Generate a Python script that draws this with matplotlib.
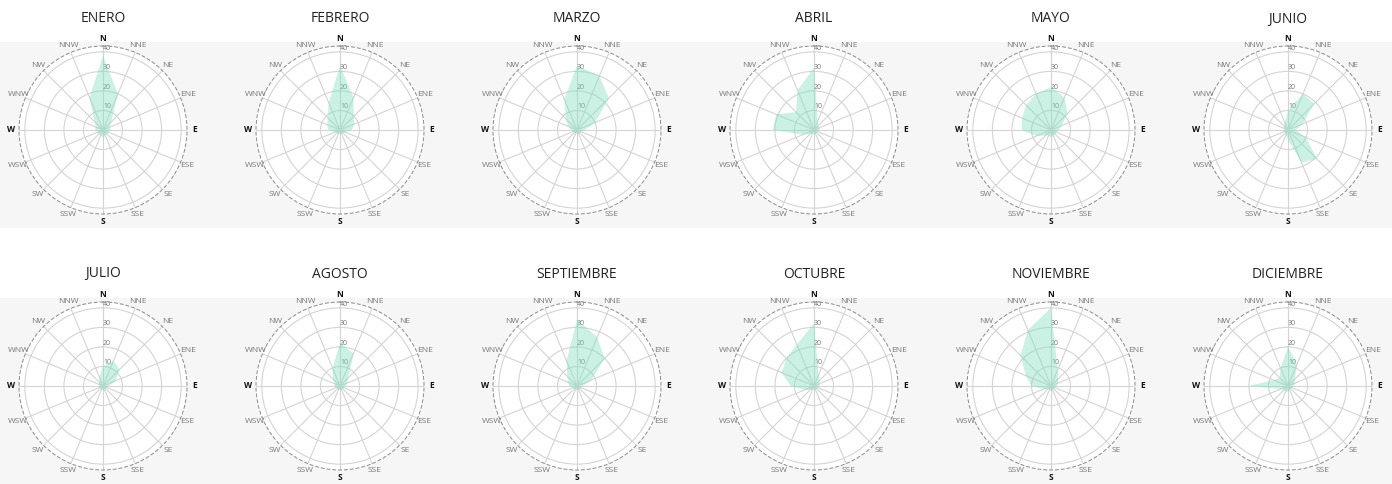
import numpy as np
import matplotlib
matplotlib.use('Agg')
import matplotlib.pyplot as plt
from matplotlib.patches import Rectangle

plt.rcParams['font.family'] = ['Open Sans', 'DejaVu Sans']

# wind directions, clockwise from north
directions = ['N', 'NNE', 'NE', 'ENE', 'E', 'ESE', 'SE', 'SSE',
              'S', 'SSW', 'SW', 'WSW', 'W', 'WNW', 'NW', 'NNW']
months = ['ENERO', 'FEBRERO', 'MARZO', 'ABRIL', 'MAYO', 'JUNIO',
          'JULIO', 'AGOSTO', 'SEPTIEMBRE', 'OCTUBRE', 'NOVIEMBRE', 'DICIEMBRE']
radial_ticks = [10, 20, 30, 40]

# frequency per direction
enero = [38, 20, 6, 4, 4, 3, 3, 3, 4, 3, 3, 3, 4, 4, 6, 18]
febrero = [33, 18, 10, 8, 6, 3, 2, 2, 2, 2, 2, 3, 6, 7, 9, 15]
marzo = [33, 30, 23, 10, 4, 2, 2, 2, 2, 2, 2, 2, 3, 5, 8, 17]
abril = [32, 5, 3, 3, 3, 2, 2, 2, 2, 2, 3, 6, 21, 21, 13, 22]
mayo = [22, 18, 12, 6, 4, 3, 3, 3, 4, 3, 4, 8, 15, 16, 18, 20]
junio = [10, 20, 19, 8, 4, 10, 21, 18, 5, 3, 2, 2, 2, 2, 3, 4]
julio = [10, 14, 12, 7, 3, 2, 2, 2, 2, 2, 2, 2, 2, 2, 3, 5]
agosto = [22, 18, 6, 4, 3, 2, 2, 2, 2, 2, 2, 2, 3, 3, 5, 10]
septiembre = [34, 27, 20, 8, 3, 2, 2, 2, 2, 2, 2, 2, 4, 5, 7, 14]
octubre = [32, 6, 4, 3, 3, 2, 2, 2, 2, 2, 3, 5, 12, 18, 20, 23]
noviembre = [40, 9, 5, 4, 3, 2, 2, 2, 3, 2, 2, 4, 10, 14, 22, 31]
diciembre = [20, 12, 5, 4, 3, 2, 2, 2, 3, 3, 3, 4, 20, 8, 6, 10]

values = [enero, febrero, marzo, abril, mayo, junio,
          julio, agosto, septiembre, octubre, noviembre, diciembre]

W, H = 1392, 484
fig = plt.figure(figsize=(W / 100, H / 100), dpi=100)

# light grey band behind each row
for top, bottom in [(42, 228), (298, 484)]:
    fig.patches.append(Rectangle((0, 1 - bottom / H), 1, (bottom - top) / H,
                                 transform=fig.transFigure, facecolor='#f6f6f6',
                                 edgecolor='none', zorder=-10))

theta = np.deg2rad(np.arange(16) * 22.5)
rad = 84  # outer radius in px
rmax = 43

for i, name in enumerate(months):
    row, col = divmod(i, 6)
    cx = 103 + 237 * col
    cy = [130, 386][row]
    ax = fig.add_axes([(cx - rad) / W, 1 - (cy + rad) / H, 2 * rad / W, 2 * rad / H],
                      projection='polar')
    ax.set_zorder(1)
    ax.set_theta_zero_location('N')
    ax.set_theta_direction(-1)
    ax.set_facecolor('white')

    v = values[i]
    tt = np.append(theta, theta[0])
    vv = np.append(v, v[0])
    ax.fill(tt, vv, color='#7fdcbf', alpha=0.4, lw=0, zorder=2)

    ax.set_ylim(0, rmax)
    ax.set_yticks(radial_ticks)
    ax.set_yticklabels([str(t) for t in radial_ticks], fontsize=5, color='#777777')
    ax.set_rlabel_position(0)
    ax.set_xticks(theta)
    ax.set_xticklabels(directions, fontsize=6)
    for lab, d in zip(ax.get_xticklabels(), directions):
        lab.set_color('#111111' if len(d) == 1 else '#777777')
        if len(d) == 1:
            lab.set_fontweight('bold')
    ax.tick_params(axis='x', pad=-5)
    ax.grid(color='#d4d4d4', lw=0.8)
    ax.spines['polar'].set_color('#8a8a8a')
    ax.spines['polar'].set_linestyle((0, (3, 3)))
    ax.spines['polar'].set_linewidth(0.7)

    fig.text(cx / W, 1 - [19, 274][row] / H, name, ha='center', va='center',
             fontsize=10, color='#222222')

fig.savefig('out.png', dpi=100)
